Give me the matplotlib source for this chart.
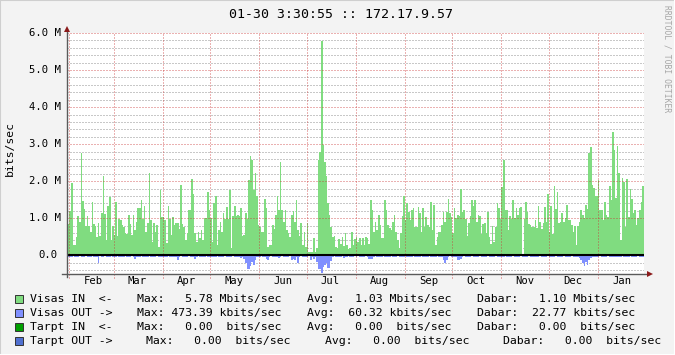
import matplotlib
matplotlib.use("Agg")

import matplotlib.dates as mdates
import matplotlib.pyplot as plt
import pandas as pd
from matplotlib.lines import Line2D
from matplotlib.patches import Rectangle

W, H = 675, 355
MONO = "DejaVu Sans Mono"

TITLE = "01-30 3:30:55 :: 172.17.9.57"
Y_LABEL = "bits/sec"
WATERMARK = "RRDTOOL / TOBI OETIKER"

START = "2010-01-30 03:30:55"
END = "2011-01-30 03:30:55"
FIRST_DAY = "2010-01-30"

# daily averages of incoming traffic, Mbit/s (Jan 30 .. Jan 30)
in_jan0 = [0.77, 0.84]
in_feb = [1.2, 1.96, 0.28, 0.28, 0.5, 1.06, 0.9, 2.77, 1.47, 1.25, 0.8, 1.06, 0.8, 0.64,
          1.43, 0.84, 0.8, 0.5, 0.86, 0.52, 1.13, 2.15, 1.12, 0.4, 1.33, 1.56, 0.41, 0.79]
in_mar = [0.55, 1.45, 0.52, 0.97, 0.95, 0.82, 0.77, 0.6, 0.58, 1.09, 0.85, 0.55, 1.09, 0.68,
          0.9, 1.27, 1.27, 1.48, 0.97, 1.32, 0.64, 0.86, 2.22, 0.94, 0.37, 0.86, 0.64, 0.82,
          0.23, 1.77, 1.03]
in_apr = [1.03, 0.95, 0.32, 1.33, 0.97, 0.55, 1.03, 0.82, 0.88, 0.88, 0.7, 1.9, 0.85, 0.77,
          0.4, 0.6, 1.23, 1.23, 2.05, 1.66, 0.6, 0.37, 0.64, 0.46, 0.68, 0.4, 1.0, 1.0, 1.72, 1.21]
in_may = [1.0, 0.37, 1.42, 1.59, 0.28, 0.68, 0.9, 0.64, 1.14, 0.97, 1.3, 0.97, 1.75, 0.19,
          1.06, 1.32, 1.06, 1.1, 1.06, 1.27, 0.52, 0.55, 1.14, 0.97, 2.04, 2.67, 2.58, 1.77,
          2.22, 1.59, 0.82]
in_jun = [0.77, 0.64, 0.64, 1.51, 1.27, 0.22, 0.28, 0.28, 0.82, 0.7, 1.09, 1.6, 1.21, 2.53,
          1.23, 0.91, 1.23, 0.68, 0.6, 0.5, 1.09, 1.2, 0.91, 1.5, 0.68, 0.52, 0.86, 0.28, 0.64, 0.23]
in_jul = [0.86, 0.1, 0.1, 0.1, 0.46, 0.1, 0.19, 2.56, 2.8, 5.78, 2.98, 2.53, 2.13, 1.4, 1.09,
          0.76, 0.5, 0.52, 0.23, 0.19, 0.43, 0.31, 0.49, 0.25, 0.6, 0.28, 0.16, 0.19, 0.64,
          0.28, 0.45]
in_aug = [0.5, 0.37, 0.46, 0.28, 0.46, 0.28, 0.5, 0.46, 0.3, 1.5, 1.23, 0.64, 0.91, 0.68,
          1.09, 0.82, 0.46, 0.46, 1.5, 1.23, 0.82, 0.73, 0.68, 0.91, 1.09, 0.64, 0.41, 0.19,
          0.6, 1.05, 1.59]
in_sep = [0.95, 1.42, 1.18, 0.95, 1.23, 1.27, 0.77, 0.76, 1.3, 1.14, 0.64, 1.27, 0.77, 1.03,
          0.82, 0.77, 1.45, 0.68, 1.36, 0.28, 0.5, 0.64, 0.64, 0.82, 1.18, 0.91, 1.18, 1.51,
          1.14, 1.03]
in_oct = [0.6, 1.27, 1.0, 1.09, 1.06, 1.8, 1.18, 1.23, 0.97, 0.52, 0.86, 1.06, 1.48, 1.32,
          1.48, 0.9, 1.09, 1.05, 0.58, 0.85, 0.88, 0.6, 1.18, 0.5, 0.31, 0.79, 0.37, 0.76,
          1.42, 1.27, 0.97]
in_nov = [1.84, 2.56, 1.23, 1.23, 0.68, 1.06, 0.97, 1.5, 1.0, 1.27, 1.1, 1.27, 1.3, 0.04,
          0.97, 1.45, 1.18, 0.85, 0.82, 0.76, 0.76, 0.95, 0.73, 1.32, 0.9, 0.7, 0.88, 1.3,
          0.91, 1.66]
in_dec = [0.64, 1.32, 0.58, 1.87, 1.24, 1.72, 0.88, 0.91, 1.14, 0.91, 1.0, 1.36, 0.95, 0.94,
          0.82, 0.64, 0.79, 0.28, 0.79, 0.91, 1.23, 1.1, 1.0, 1.36, 1.24, 2.76, 2.92, 1.9,
          1.81, 1.6, 1.59]
in_jan = [2.02, 1.23, 1.21, 0.95, 1.45, 1.1, 1.03, 1.87, 1.5, 3.34, 2.85, 1.54, 2.94, 2.22,
          0.4, 2.08, 1.99, 0.77, 2.05, 1.03, 1.78, 1.51, 1.14, 1.23, 0.82, 1.0, 1.23, 1.45,
          1.86, 1.03]

# outgoing traffic, drawn below zero, Mbit/s
out_jan0 = [-0.05, -0.04]
out_feb = [-0.05, -0.06, -0.03, -0.04, -0.05, -0.04, -0.03, -0.06, -0.05, -0.04, -0.03, -0.04,
           -0.05, -0.04, -0.03, -0.04, -0.05, -0.04, -0.2, -0.03, -0.04, -0.05, -0.03, -0.04,
           -0.04, -0.05, -0.03, -0.04]
out_mar = [-0.04, -0.05, -0.03, -0.04, -0.04, -0.05, -0.04, -0.03, -0.04, -0.05, -0.04, -0.03,
           -0.04, -0.09, -0.04, -0.05, -0.04, -0.03, -0.04, -0.05, -0.04, -0.04, -0.03, -0.05,
           -0.04, -0.04, -0.05, -0.03, -0.04, -0.04, -0.05]
out_apr = [-0.04, -0.05, -0.04, -0.03, -0.04, -0.05, -0.04, -0.04, -0.05, -0.14, -0.04, -0.03,
           -0.04, -0.05, -0.04, -0.04, -0.03, -0.04, -0.05, -0.04, -0.11, -0.04, -0.03, -0.04,
           -0.05, -0.04, -0.04, -0.03, -0.05, -0.04]
out_may = [-0.04, -0.05, -0.06, -0.04, -0.03, -0.04, -0.05, -0.04, -0.04, -0.03, -0.04, -0.05,
           -0.04, -0.04, -0.03, -0.04, -0.05, -0.04, -0.06, -0.08, -0.05, -0.1, -0.2, -0.38,
           -0.36, -0.3, -0.18, -0.26, -0.12, -0.05, -0.04]
out_jun = [-0.04, -0.03, -0.05, -0.04, -0.1, -0.14, -0.04, -0.03, -0.04, -0.05, -0.04, -0.04,
           -0.08, -0.04, -0.03, -0.04, -0.05, -0.04, -0.04, -0.03, -0.14, -0.1, -0.12, -0.04,
           -0.2, -0.04, -0.03, -0.04, -0.05, -0.04]
out_jul = [-0.04, -0.03, -0.14, -0.04, -0.1, -0.06, -0.17, -0.38, -0.38, -0.47, -0.31, -0.26,
           -0.2, -0.33, -0.33, -0.15, -0.04, -0.03, -0.04, -0.05, -0.05, -0.04, -0.03, -0.07,
           -0.04, -0.04, -0.03, -0.05, -0.04, -0.04, -0.03]
out_aug = [-0.04, -0.03, -0.04, -0.05, -0.04, -0.04, -0.03, -0.04, -0.11, -0.1, -0.11, -0.04,
           -0.03, -0.04, -0.05, -0.04, -0.04, -0.03, -0.04, -0.04, -0.05, -0.04, -0.03, -0.05,
           -0.04, -0.04, -0.03, -0.04, -0.05, -0.04, -0.04]
out_sep = [-0.03, -0.04, -0.05, -0.04, -0.04, -0.03, -0.04, -0.05, -0.04, -0.04, -0.03, -0.04,
           -0.05, -0.04, -0.04, -0.03, -0.04, -0.05, -0.04, -0.04, -0.03, -0.04, -0.05, -0.04,
           -0.12, -0.2, -0.12, -0.04, -0.03, -0.04]
out_oct = [-0.04, -0.05, -0.04, -0.12, -0.13, -0.1, -0.04, -0.03, -0.04, -0.05, -0.04, -0.04,
           -0.03, -0.04, -0.05, -0.04, -0.04, -0.03, -0.04, -0.05, -0.04, -0.04, -0.03, -0.04,
           -0.05, -0.04, -0.04, -0.03, -0.04, -0.05, -0.04]
out_nov = [-0.05, -0.04, -0.03, -0.04, -0.04, -0.05, -0.04, -0.03, -0.04, -0.04, -0.05, -0.04,
           -0.03, -0.04, -0.04, -0.05, -0.04, -0.03, -0.04, -0.04, -0.05, -0.04, -0.05, -0.04,
           -0.03, -0.04, -0.04, -0.05, -0.04, -0.03]
out_dec = [-0.04, -0.04, -0.05, -0.04, -0.03, -0.04, -0.04, -0.05, -0.04, -0.03, -0.04, -0.04,
           -0.05, -0.04, -0.03, -0.04, -0.04, -0.05, -0.04, -0.08, -0.14, -0.2, -0.28, -0.17,
           -0.26, -0.13, -0.08, -0.05, -0.04, -0.04, -0.05]
out_jan = [-0.04, -0.03, -0.04, -0.04, -0.05, -0.04, -0.03, -0.04, -0.05, -0.05, -0.04, -0.05,
           -0.06, -0.04, -0.04, -0.03, -0.04, -0.05, -0.04, -0.04, -0.03, -0.04, -0.05, -0.04,
           -0.04, -0.03, -0.04, -0.05, -0.04, -0.04]

y_ticks = [0, 1, 2, 3, 4, 5, 6]
y_min, y_max = -0.5, 6.0

legend_names = ["Visas IN  <-", "Visas OUT ->", "Tarpt IN  <-", "Tarpt OUT ->"]
legend_max = ["  5.78 M", "473.39 k", "  0.00  ", "  0.00  "]
legend_avg = ["  1.03 M", " 60.32 k", "  0.00  ", "  0.00  "]
legend_last = ["  1.10 M", " 22.77 k", "  0.00  ", "  0.00  "]

C_IN = "#80DC80"
C_OUT = "#8090FF"
C_IN2 = "#00A000"
C_OUT2 = "#5070D0"
legend_colors = [C_IN, C_OUT, C_IN2, C_OUT2]

BG = "#F3F3F3"
MGRID = "#C83232"
MINOR = "#C8C8C8"
ARROW = "#8B1A1A"


def fx(px):
    return px / W


def fy(py):
    return 1 - py / H


series_in = (in_jan0 + in_feb + in_mar + in_apr + in_may + in_jun + in_jul + in_aug
             + in_sep + in_oct + in_nov + in_dec + in_jan)
series_out = (out_jan0 + out_feb + out_mar + out_apr + out_may + out_jun + out_jul + out_aug
              + out_sep + out_oct + out_nov + out_dec + out_jan)
edges = mdates.date2num(pd.date_range(FIRST_DAY, periods=len(series_in) + 1, freq="D"))

fig = plt.figure(figsize=(W / 100, H / 100), dpi=100, facecolor=BG)

# plot area in pixels
left, right, top, bottom = 66.5, 644.0, 33.0, 273.8
ax = fig.add_axes([fx(left), fy(bottom), fx(right - left), (bottom - top) / H])
ax.set_facecolor("white")
for s in ax.spines.values():
    s.set_visible(False)
ax.set_xticks([])
ax.set_yticks([])

x0 = mdates.date2num(pd.Timestamp(START))
x1 = mdates.date2num(pd.Timestamp(END))
ax.set_xlim(x0, x1)
ax.set_ylim(y_min, y_max)

ax.stairs(series_in, edges, baseline=0, fill=True, color=C_IN, lw=0, antialiased=False, zorder=2)
ax.stairs(series_out, edges, baseline=0, fill=True, color=C_OUT, lw=0, antialiased=False, zorder=2)

dots = (0, (1, 1))
for k in range(-2, 31):
    if k % 5 == 0:
        continue
    ax.axhline(k * 0.2, color=MINOR, lw=0.75, ls=dots, zorder=1, antialiased=False)
for v in y_ticks[1:]:
    ax.axhline(v, color=MGRID, alpha=0.38, lw=0.75, ls=dots, zorder=3, antialiased=False)

month_starts = pd.date_range("2010-02-01", "2011-01-01", freq="MS")
for m in month_starts:
    ax.plot([mdates.date2num(m)] * 2, [y_min - 0.1, y_max], color=MGRID, alpha=0.38,
            lw=0.75, ls=dots, zorder=3, clip_on=False, antialiased=False)

ax.axhline(0, color="black", lw=1.5, zorder=4)

# axes with arrows
fig.add_artist(Line2D([fx(left), fx(left)], [fy(bottom + 3), fy(top - 3)], color="#5A5A5A", lw=1))
fig.add_artist(Line2D([fx(left - 5), fx(right + 4)], [fy(bottom), fy(bottom)], color="#5A5A5A", lw=1))
fig.add_artist(Line2D([fx(left)], [fy(top - 4)], marker="^", ms=5, color=ARROW, mew=0))
fig.add_artist(Line2D([fx(right + 6)], [fy(bottom)], marker=">", ms=5, color=ARROW, mew=0))

# tick labels
for v in y_ticks:
    py = bottom - (v - y_min) / (y_max - y_min) * (bottom - top)
    if v == 0:
        fig.text(fx(58), fy(py), "0.0", ha="right", va="center", family=MONO, fontsize=7.6)
    else:
        fig.text(fx(61), fy(py), f"{v:.1f} M", ha="right", va="center", family=MONO, fontsize=7.6)

for m in month_starts:
    mid = mdates.date2num(m + pd.Timedelta(days=15))
    px = left + (mid - x0) / (x1 - x0) * (right - left)
    fig.text(fx(px), fy(281.5), m.strftime("%b"), ha="center", va="center", family=MONO,
             fontsize=7.6)

fig.text(fx(341), fy(14), TITLE, ha="center", va="center", family=MONO, fontsize=9.5)
fig.text(fx(10), fy(149), Y_LABEL, ha="center", va="center", rotation=90, family=MONO,
         fontsize=8.2)
fig.text(fx(667), fy(5), WATERMARK, ha="center", va="top", rotation=270, family=MONO,
         fontsize=5.8, color="#A6A6A6")

# legend
row_y = [299, 313.3, 327.3, 341.3]
col_x = [[137, 307, 477]] * 3 + [[146, 325, 503]]
for i, name in enumerate(legend_names):
    y = row_y[i]
    fig.add_artist(Rectangle((fx(15), fy(y + 4)), 8 / W, 8 / H, facecolor=legend_colors[i],
                             edgecolor="#333333", lw=0.7))
    fig.text(fx(30), fy(y), name, ha="left", va="center", family=MONO, fontsize=8.25)
    parts = [("Max:", legend_max[i]), ("Avg:", legend_avg[i]), ("Dabar:", legend_last[i])]
    for (lab, val), cx in zip(parts, col_x[i]):
        fig.text(fx(cx), fy(y), f"{lab} {val}bits/sec", ha="left", va="center", family=MONO,
                 fontsize=8.25)

# 3d-ish frame of the rrdtool image
fig.add_artist(Line2D([0, 0, 1], [0, 1, 1], color="#CFCFCF", lw=1.5))
fig.add_artist(Line2D([0, 1, 1], [0, 0, 1], color="white", lw=1.5))

fig.savefig("out.png", dpi=100, facecolor=BG)
